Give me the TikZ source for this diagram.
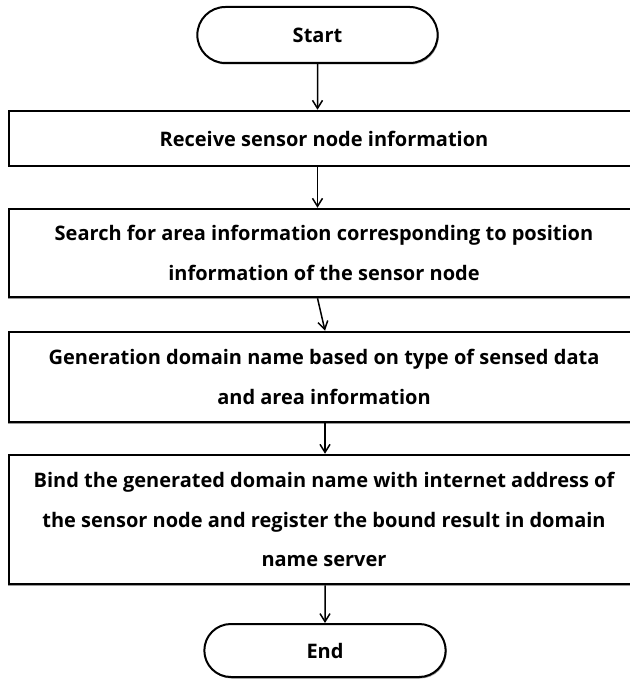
\documentclass[tikz,border=0pt]{standalone}
\usepackage{fontspec}
\setmainfont{Open Sans}
\usetikzlibrary{shapes.misc,arrows.meta,shadows}

\begin{document}
\begin{tikzpicture}[x=1pt,y=-1pt]
\tikzstyle{every node}+=[font=\bfseries\fontsize{20}{39.5}\selectfont]
\tikzstyle{box}=[draw,line width=2.5pt,fill=white,minimum width=630pt,align=center,
  drop shadow={shadow xshift=-1.2pt,shadow yshift=-1.5pt,fill=gray!80,opacity=1}]
\tikzstyle{term}=[draw,rounded rectangle,line width=2pt,fill=white,
  drop shadow={shadow xshift=1pt,shadow yshift=-1.5pt,fill=gray!80,opacity=1}]
\tikzstyle{flow}=[line width=1.5pt,-{Straight Barb[length=8pt,width=10pt]}]
\useasboundingbox (0,0) rectangle (629,679);
% terminals and steps
\node[term,minimum width=247pt,minimum height=56pt] (start) at (317.5,35) {Start};
\node[box,minimum height=55pt] (recv) at (324,138.5) {Receive sensor node information};
\node[box,minimum height=88pt] (search) at (324,253)
  {Search for area information corresponding to position\\information of the sensor node};
\node[box,minimum height=90pt] (gen) at (324,377)
  {Generation domain name based on type of sensed data\\and area information};
\node[box,minimum height=129pt] (bind) at (324,519.5)
  {Bind the generated domain name with internet address of\\the sensor node and register the bound result in domain\\name server};
\node[term,minimum width=248pt,minimum height=53pt] (end) at (325,650.5) {End};
% arrows
\draw[flow] (start) -- (start |- recv.north);
\draw[flow] (recv.south -| start) -- (start |- search.north);
\draw[flow] (search.south -| start) -- (gen.north -| end);
\draw[flow] (gen.south -| end) -- (bind.north -| end);
\draw[flow] (bind.south -| end) -- (end);
\end{tikzpicture}
\end{document}
